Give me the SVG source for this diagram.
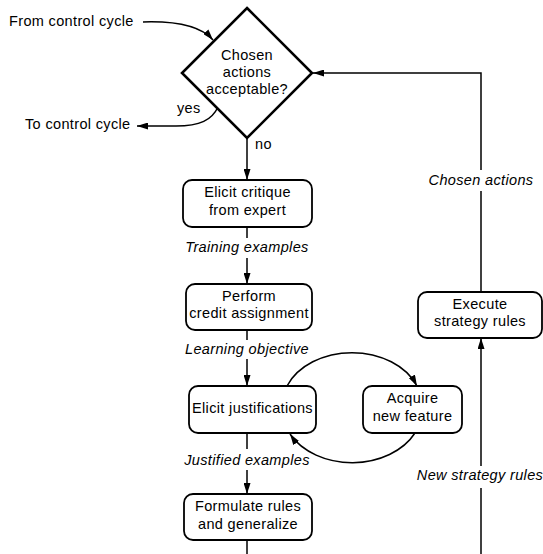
<svg xmlns="http://www.w3.org/2000/svg" width="543" height="554" viewBox="0 0 543 554">
<style>
text{font-family:"Liberation Sans",Arial,sans-serif;font-size:14.5px;letter-spacing:0.35px;fill:#000}
.c{text-anchor:middle}
.i{font-style:italic;text-anchor:middle}
.box{fill:#fff;stroke:#000;stroke-width:1.8}
.dia{fill:#fff;stroke:#000;stroke-width:2.6}
.ln{fill:none;stroke:#000;stroke-width:1.5}
</style>
<defs>
<marker id="ah" markerUnits="userSpaceOnUse" markerWidth="11" markerHeight="7" refX="11" refY="3.5" orient="auto">
<path d="M0,0 L11,3.5 L0,7 z" fill="#000"/>
</marker>
</defs>
<g id="connectors">
<path class="ln" d="M143,22 C175,21 200,25 213,40" marker-end="url(#ah)"/>
<path class="ln" d="M218,107 C212,120 200,126 176,126 L137,126" marker-end="url(#ah)"/>
<path class="ln" d="M247,138 V180" marker-end="url(#ah)"/>
<path class="ln" d="M247,227 V238"/>
<path class="ln" d="M247,258 V284" marker-end="url(#ah)"/>
<path class="ln" d="M247,330 V340"/>
<path class="ln" d="M247,359 V386" marker-end="url(#ah)"/>
<path class="ln" d="M247,433 V449"/>
<path class="ln" d="M247,470 V494" marker-end="url(#ah)"/>
<path class="ln" d="M247,540 V554"/>
<path class="ln" d="M287,386 A70 53 0 0 1 417,386" marker-end="url(#ah)"/>
<path class="ln" d="M415,433 A70 53 0 0 1 290,434" marker-end="url(#ah)"/>
<path class="ln" d="M481,554 V488"/>
<path class="ln" d="M481,466 V338" marker-end="url(#ah)"/>
<path class="ln" d="M481,292 V191"/>
<path class="ln" d="M481,170 V73 H313" marker-end="url(#ah)"/>
</g>
<g id="labels">
<text x="9" y="26">From control cycle</text>
<text x="25" y="129">To control cycle</text>
<text x="177" y="113">yes</text>
<text x="255" y="149">no</text>
<text class="i" x="247" y="252">Training examples</text>
<text class="i" x="247" y="354">Learning objective</text>
<text class="i" x="247" y="465">Justified examples</text>
<text class="i" x="481" y="185">Chosen actions</text>
<text class="i" x="480" y="480">New strategy rules</text>
</g>
<g id="decision">
<polygon class="dia" points="247,8 312,73 247,138 182,73"/>
<text class="c" x="247" y="60">Chosen</text>
<text class="c" x="247" y="77">actions</text>
<text class="c" x="247" y="94">acceptable?</text>
</g>
<g id="elicit-critique">
<rect class="box" x="183" y="180" width="129" height="47" rx="9"/>
<text class="c" x="247.5" y="197">Elicit critique</text>
<text class="c" x="247.5" y="214.5">from expert</text>
</g>
<g id="perform">
<rect class="box" x="186" y="284" width="126" height="46" rx="9"/>
<text class="c" x="249" y="300.5">Perform</text>
<text class="c" x="249" y="318">credit assignment</text>
</g>
<g id="elicit-justifications">
<rect class="box" x="189" y="386" width="127" height="47" rx="9"/>
<text class="c" x="252.5" y="413">Elicit justifications</text>
</g>
<g id="acquire">
<rect class="box" x="363" y="386" width="99" height="47" rx="9"/>
<text class="c" x="412.5" y="403">Acquire</text>
<text class="c" x="412.5" y="420.5">new feature</text>
</g>
<g id="formulate">
<rect class="box" x="184" y="494" width="128" height="46" rx="9"/>
<text class="c" x="248" y="511">Formulate rules</text>
<text class="c" x="248" y="528.5">and generalize</text>
</g>
<g id="execute">
<rect class="box" x="418" y="292" width="124" height="46" rx="9"/>
<text class="c" x="480" y="308.5">Execute</text>
<text class="c" x="480" y="326">strategy rules</text>
</g>
</svg>
